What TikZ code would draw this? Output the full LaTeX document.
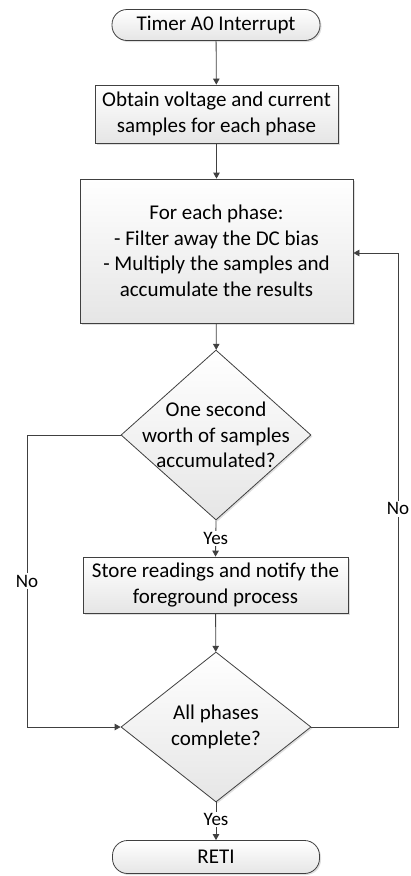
\documentclass[tikz,border=0pt]{standalone}
\usepackage{fontspec}
\setmainfont{Carlito}
\usetikzlibrary{arrows.meta,shapes.geometric,shadows}
\definecolor{lc}{HTML}{404040}
\tikzset{
  base/.style={draw=lc, line width=0.8pt, top color=white, bottom color=gray!20,
    drop shadow={shadow xshift=1.5pt, shadow yshift=-1.5pt, opacity=0.25},
    inner sep=0pt, align=center, font=\fontsize{21}{25.5}\selectfont},
  term/.style={base, rectangle, rounded corners=15pt},
  proc/.style={base, rectangle},
  dec/.style={base, diamond},
  txt/.style={inner sep=0pt, align=center, font=\fontsize{21}{25.5}\selectfont},
  conn/.style={draw=lc, line width=0.8pt, -{Triangle[width=6.5pt,length=6pt]}},
  lbl/.style={fill=white, inner sep=1.5pt, font=\fontsize{19}{22}\selectfont},
}
\begin{document}
\begin{tikzpicture}[x=1pt,y=-1pt]
\useasboundingbox (0,0) rectangle (410,876);
\node[term, minimum width=208pt, minimum height=31pt] (t1) at (216,25) {Timer A0 Interrupt};
\node[proc, minimum width=243pt, minimum height=58pt] (b2) at (216.5,114) {Obtain voltage and current\\samples for each phase};
\node[proc, minimum width=273pt, minimum height=144pt] (b3) at (216.5,251) {For each phase:\\- Filter away the DC bias\\- Multiply the samples and\\accumulate the results};
\node[dec, minimum width=190pt, minimum height=170pt] (d1) at (216,435) {};
\node[txt] (d1t) at (216,435) {One second\\worth of samples\\accumulated?};
\node[proc, minimum width=265pt, minimum height=56pt] (b4) at (215.5,585) {Store readings and notify the\\foreground process};
\node[dec, minimum width=190pt, minimum height=150pt] (d2) at (216,727) {};
\node[txt] (d2t) at (216,727) {All phases\\complete?};
\node[term, minimum width=207pt, minimum height=33pt] (r) at (216,857) {RETI};

\coordinate (l1) at (27,435);
\coordinate (l2) at (27,727);
\coordinate (r1) at (398,727);
\coordinate (r2) at (398,253);

\draw[conn] (t1) -- (b2);
\draw[conn] (b2) -- (b3);
\draw[conn] (b3) -- (d1);
\draw[conn] (d1.south) -- node[lbl] (y1) {Yes} (b4.north);
\draw[conn] (b4) -- (d2);
\draw[conn] (d2.south) -- node[lbl, pos=0.45] (y2) {Yes} (r.north);
\draw[conn] (d1.west) -- (l1) -- node[lbl, pos=0.5] (n1) {No} (l2) -- (d2.west);
\draw[conn] (d2.east) -- (r1) -- node[lbl, pos=0.46] (n2) {No} (r2) -- (b3.east |- r2);
\end{tikzpicture}
\end{document}
